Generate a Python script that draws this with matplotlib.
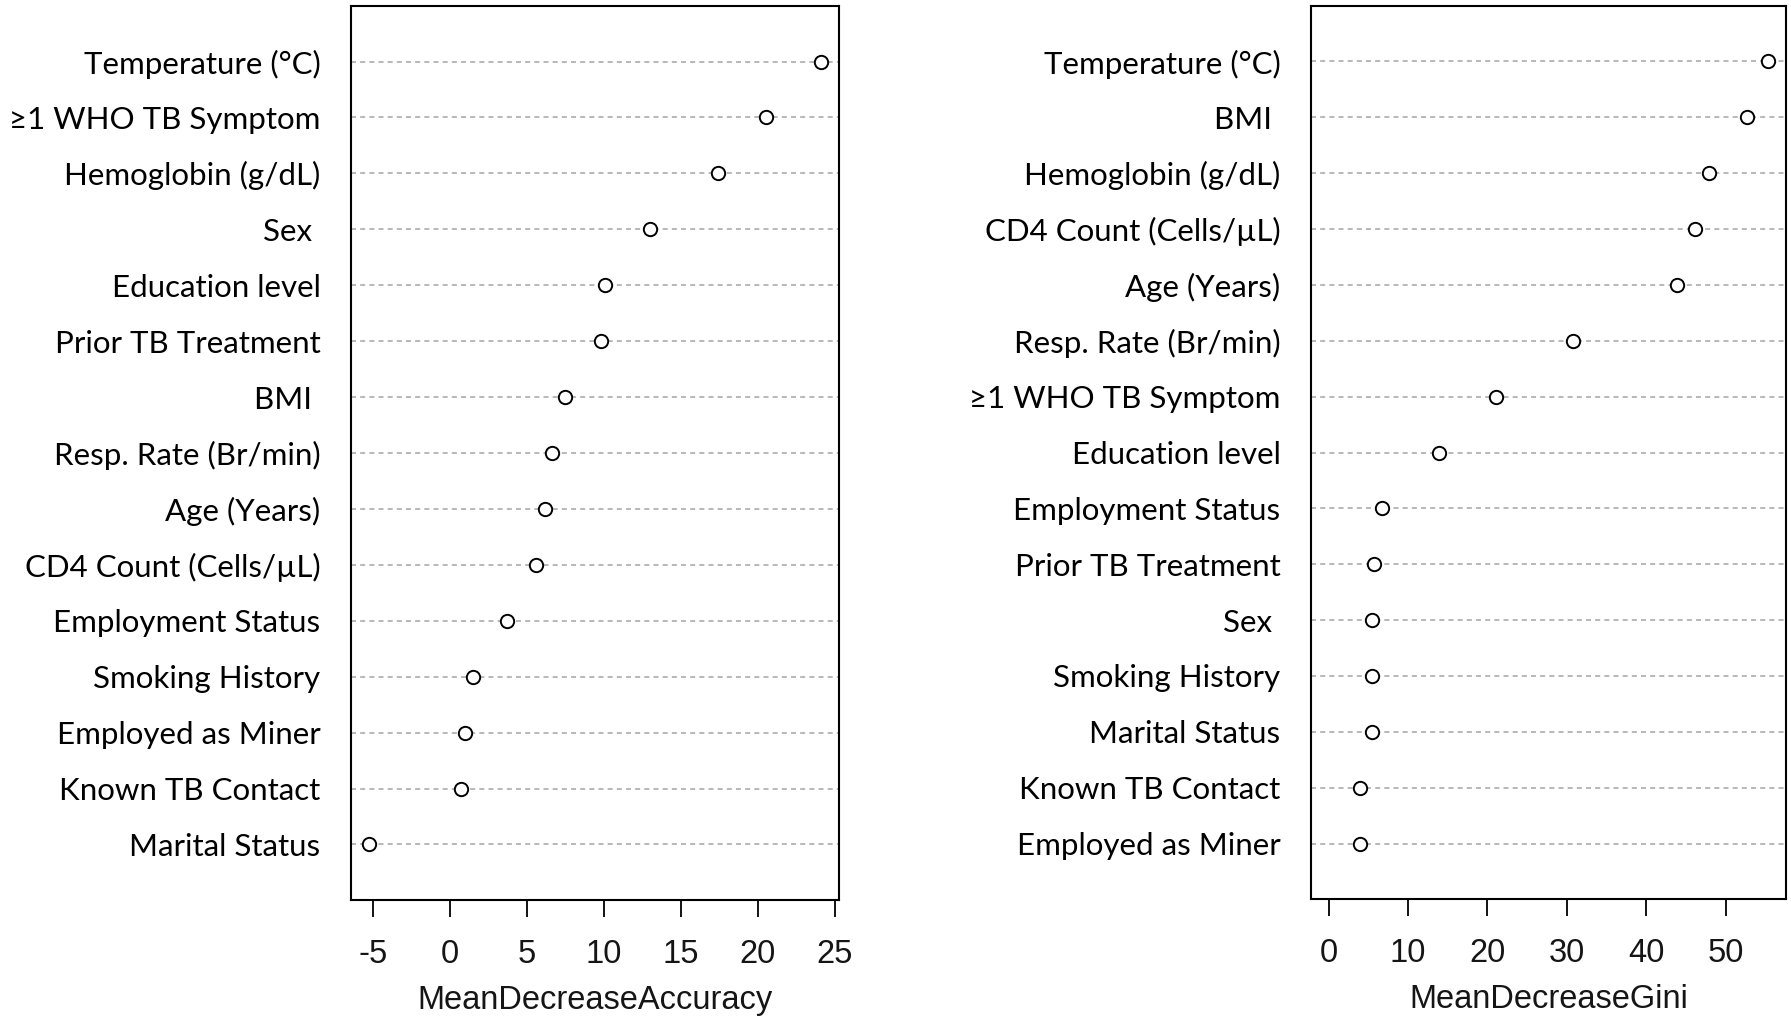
import matplotlib
matplotlib.use('Agg')
import matplotlib.pyplot as plt
import numpy as np

# variable importance from the random forest, top to bottom as plotted
acc_labels = ['Temperature (°C)', '≥1 WHO TB Symptom', 'Hemoglobin (g/dL)', 'Sex ',
              'Education level', 'Prior TB Treatment', 'BMI ', 'Resp. Rate (Br/min)',
              'Age (Years)', 'CD4 Count (Cells/µL)', 'Employment Status', 'Smoking History',
              'Employed as Miner', 'Known TB Contact', 'Marital Status']
acc_values = [24.1, 20.5, 17.4, 13.0, 10.1, 9.8, 7.5, 6.6, 6.2, 5.6, 3.7, 1.5, 0.95, 0.7, -5.25]
acc_ticks = [-5, 0, 5, 10, 15, 20, 25]

gini_labels = ['Temperature (°C)', 'BMI ', 'Hemoglobin (g/dL)', 'CD4 Count (Cells/µL)',
               'Age (Years)', 'Resp. Rate (Br/min)', '≥1 WHO TB Symptom', 'Education level',
               'Employment Status', 'Prior TB Treatment', 'Sex ', 'Smoking History',
               'Marital Status', 'Known TB Contact', 'Employed as Miner']
gini_values = [55.4, 52.7, 47.9, 46.2, 43.9, 30.8, 21.1, 13.9, 6.7, 5.7, 5.5, 5.45, 5.45, 3.9, 3.9]
gini_ticks = [0, 10, 20, 30, 40, 50]

LABEL_FONT = ['Lato', 'DejaVu Sans']
AXIS_FONT = ['Liberation Sans', 'DejaVu Sans']


def DotPanel(ax, labels, values, ticks, xlabel, xmin=None):
    n = len(values)
    ypos = np.arange(n, 0, -1)
    lo = min(values) if xmin is None else xmin
    hi = max(values)
    span = hi - lo
    ax.set_xlim(lo - 0.04 * span, hi + 0.04 * span)
    ax.set_ylim(0, n + 1)

    for y in ypos:
        ax.axhline(y, color='#ababab', lw=1.2, ls=(0, (3, 2.5)), zorder=1)
    ax.plot(values, ypos, 'o', mfc='white', mec='black', ms=9.6, mew=1.4, zorder=3)

    ax.set_yticks(ypos)
    ax.set_yticklabels(labels, fontfamily=LABEL_FONT, fontsize=22.5, color='black')
    ax.tick_params(axis='y', length=0, pad=22)

    ax.set_xticks(ticks)
    ax.set_xticklabels([str(t) for t in ticks], fontfamily=AXIS_FONT, fontsize=23.5, color='#151515')
    ax.tick_params(axis='x', direction='out', length=12.5, width=1.3, pad=15)
    ax.set_xlabel(xlabel, fontfamily=AXIS_FONT, fontsize=23.5, color='#151515', labelpad=11)

    for s in ax.spines.values():
        s.set_linewidth(1.5)
        s.set_color('black')


fig = plt.figure(figsize=(17.91, 10.18), dpi=100)
ax1 = fig.add_axes([0.196, 0.1155, 0.2725, 0.879])
ax2 = fig.add_axes([0.732, 0.1165, 0.2652, 0.878])

DotPanel(ax1, acc_labels, acc_values, acc_ticks, 'MeanDecreaseAccuracy')
DotPanel(ax2, gini_labels, gini_values, gini_ticks, 'MeanDecreaseGini', xmin=0)

fig.savefig('out.png', dpi=100)
